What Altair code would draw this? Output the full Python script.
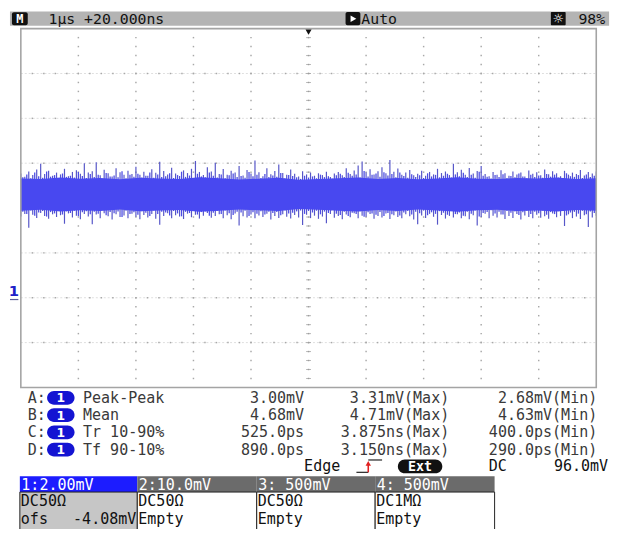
import altair as alt
import pandas as pd

# ================= data =================
status_timebase = "1µs +20.000ns"
status_mode = "Auto"
status_bright = "98%"

us_per_div = 1.0          # 1 µs / div
mv_per_div = 2.0          # 1:2.00mV
ch1_offset_mv = -4.08     # ofs -4.08mV
x_divs = 10
y_divs = 8

# outer extremes of the noise trace (mV), left to right (set A)
spike_top_mv = [
    5.62, 5.48, 5.71, 5.55, 5.80, 6.05, 5.60, 5.74, 5.52, 5.66,
    5.58, 5.83, 5.50, 5.69, 5.77, 5.61, 6.08, 5.66, 5.72, 6.12,
    5.54, 5.79, 5.63, 5.49, 5.86, 5.68, 5.57, 5.74, 5.60, 5.92,
    5.56, 5.70, 5.52, 5.81, 5.65, 6.15, 5.73, 5.58, 5.88, 5.62,
    5.51, 5.76, 5.64, 5.83, 6.18, 5.69, 5.55, 5.90, 5.71, 6.10,
    5.60, 5.82, 5.57, 5.74, 5.66, 5.95, 5.53, 5.78, 5.62, 6.20,
    5.68, 5.50, 5.85, 5.59, 5.73, 6.02, 5.64, 5.56, 5.80, 5.61,
    5.49, 5.72, 5.58, 5.66, 5.52, 5.63, 5.55, 5.70, 5.47, 5.62,
    5.69, 5.54, 5.86, 5.60, 5.75, 5.98, 6.16, 5.67, 5.81, 5.58,
    5.72, 5.90, 5.63, 6.22, 5.70, 5.84, 5.57, 5.66, 5.78, 5.54,
    5.61, 5.74, 5.52, 5.69, 5.58, 5.83, 5.64, 5.71, 5.55, 6.05,
    5.68, 5.79, 5.57, 5.87, 5.62, 5.73, 5.96, 5.60, 5.50, 5.69,
    5.56, 5.77, 5.63, 5.52, 5.71, 5.58, 5.66, 5.49, 5.75, 5.61,
    5.68, 5.54, 5.80, 5.59, 5.72, 5.63, 5.50, 5.74, 5.57, 5.66,
    5.60, 5.78, 5.53, 5.69, 5.62, 5.71,
]
spike_bottom_mv = [
    3.70, 3.82, 3.20, 3.78, 3.64, 3.86, 3.72, 3.60, 3.80, 3.68,
    3.76, 3.38, 3.84, 3.66, 3.74, 3.58, 3.82, 3.70, 3.36, 3.79,
    3.62, 3.85, 3.71, 3.57, 3.80, 3.68, 3.75, 3.63, 3.83, 3.69,
    3.58, 3.77, 3.66, 3.81, 3.60, 3.34, 3.73, 3.85, 3.62, 3.76,
    3.70, 3.59, 3.83, 3.67, 3.78, 3.61, 3.74, 3.86, 3.65, 3.72,
    3.80, 3.63, 3.76, 3.58, 3.84, 3.30, 3.71, 3.66, 3.79, 3.62,
    3.75, 3.68, 3.83, 3.57, 3.73, 3.64, 3.80, 3.69, 3.61, 3.77,
    3.66, 3.32, 3.78, 3.63, 3.74, 3.60, 3.70, 3.40, 3.82, 3.65,
    3.72, 3.58, 3.79, 3.67, 3.85, 3.62, 3.74, 3.69, 3.81, 3.60,
    3.73, 3.66, 3.84, 3.59, 3.76, 3.68, 3.62, 3.80, 3.71, 3.57,
    3.36, 3.75, 3.64, 3.82, 3.69, 3.34, 3.77, 3.61, 3.73, 3.66,
    3.80, 3.63, 3.71, 3.58, 3.76, 3.30, 3.68, 3.83, 3.62, 3.74,
    3.66, 3.79, 3.59, 3.72, 3.64, 3.81, 3.57, 3.75, 3.68, 3.62,
    3.78, 3.65, 3.71, 3.60, 3.84, 3.67, 3.73, 3.28, 3.80, 3.63,
    3.70, 3.59, 3.76, 3.24, 3.66, 3.74,
]
# smaller excursions between the samples above (set B)
fuzz_top_mv = [
    5.45, 5.58, 5.41, 5.66, 5.50, 5.43, 5.71, 5.48, 5.55, 5.40,
    5.62, 5.47, 5.52, 5.44, 5.69, 5.51, 5.42, 5.60, 5.46, 5.57,
    5.39, 5.64, 5.49, 5.53, 5.45, 5.72, 5.41, 5.56, 5.48, 5.61,
    5.44, 5.52, 5.67, 5.43, 5.58, 5.46, 5.50, 5.63, 5.42, 5.55,
    5.70, 5.47, 5.53, 5.40, 5.61, 5.49, 5.45, 5.66, 5.52, 5.44,
    5.58, 5.41, 5.54, 5.62, 5.47, 5.51, 5.43, 5.69, 5.50, 5.56,
    5.42, 5.60, 5.46, 5.53, 5.48, 5.64, 5.40, 5.55, 5.51, 5.45,
    5.38, 5.52, 5.44, 5.49, 5.41, 5.57, 5.46, 5.50, 5.39, 5.54,
    5.61, 5.47, 5.65, 5.52, 5.58, 5.44, 5.73, 5.49, 5.56, 5.62,
    5.48, 5.68, 5.53, 5.60, 5.45, 5.66, 5.51, 5.43, 5.59, 5.47,
    5.54, 5.42, 5.63, 5.49, 5.56, 5.45, 5.52, 5.61, 5.44, 5.58,
    5.50, 5.65, 5.46, 5.57, 5.43, 5.70, 5.52, 5.48, 5.40, 5.55,
    5.47, 5.59, 5.42, 5.51, 5.45, 5.62, 5.49, 5.41, 5.56, 5.46,
    5.53, 5.43, 5.60, 5.48, 5.57, 5.44, 5.39, 5.63, 5.50, 5.47,
    5.55, 5.42, 5.58, 5.46, 5.52,
]
fuzz_bottom_mv = [
    3.92, 3.81, 3.97, 3.74, 3.88, 3.95, 3.70, 3.90, 3.84, 3.98,
    3.79, 3.93, 3.86, 3.96, 3.72, 3.89, 3.94, 3.80, 3.91, 3.83,
    3.99, 3.76, 3.90, 3.85, 3.93, 3.68, 3.96, 3.82, 3.89, 3.78,
    3.94, 3.87, 3.73, 3.97, 3.81, 3.92, 3.88, 3.75, 3.95, 3.84,
    3.71, 3.91, 3.86, 3.98, 3.79, 3.90, 3.93, 3.74, 3.87, 3.95,
    3.82, 3.97, 3.85, 3.77, 3.92, 3.88, 3.96, 3.72, 3.89, 3.83,
    3.94, 3.79, 3.91, 3.86, 3.90, 3.76, 3.98, 3.84, 3.87, 3.93,
    3.97, 3.82, 3.95, 3.88, 3.96, 3.80, 3.92, 3.86, 3.99, 3.83,
    3.77, 3.91, 3.73, 3.87, 3.81, 3.94, 3.69, 3.89, 3.84, 3.78,
    3.90, 3.72, 3.86, 3.80, 3.93, 3.75, 3.88, 3.95, 3.79, 3.91,
    3.85, 3.97, 3.76, 3.89, 3.82, 3.94, 3.87, 3.78, 3.96, 3.81,
    3.88, 3.74, 3.92, 3.83, 3.97, 3.70, 3.86, 3.90, 3.98, 3.84,
    3.91, 3.79, 3.95, 3.87, 3.93, 3.77, 3.89, 3.96, 3.82, 3.92,
    3.85, 3.97, 3.78, 3.90, 3.81, 3.94, 3.99, 3.75, 3.88, 3.91,
    3.83, 3.96, 3.80, 3.93, 3.86,
]
# dense core of the trace (mV)
core_top_mv = [5.40, 5.37, 5.44, 5.39, 5.42, 5.36, 5.43, 5.40, 5.38, 5.45,
               5.41, 5.35, 5.39, 5.43, 5.34, 5.38, 5.41, 5.44, 5.38, 5.42,
               5.36, 5.40, 5.45, 5.39, 5.37, 5.42, 5.40, 5.44, 5.38, 5.41]
core_bottom_mv = [3.96, 4.00, 3.93, 3.98, 3.95, 4.01, 3.94, 3.97, 3.99, 3.92,
                  3.96, 4.02, 3.98, 3.95, 4.04, 4.00, 3.96, 3.93, 3.99, 3.95,
                  4.01, 3.97, 3.92, 3.98, 4.00, 3.95, 3.97, 3.93, 3.99, 3.96]

meas_slot = ["A:", "B:", "C:", "D:"]
meas_source = ["1", "1", "1", "1"]
meas_name = ["Peak-Peak", "Mean", "Tr 10-90%", "Tf 90-10%"]
meas_current = ["3.00mV", "4.68mV", "525.0ps", "890.0ps"]
meas_max = ["3.31mV(Max)", "4.71mV(Max)", "3.875ns(Max)", "3.150ns(Max)"]
meas_min = ["2.68mV(Min)", "4.63mV(Min)", "400.0ps(Min)", "290.0ps(Min)"]

trig_type = "Edge"
trig_source = "Ext"
trig_coupling = "DC"
trig_level = "96.0mV"

ch_label = ["1:2.00mV", "2:10.0mV", "3: 500mV", "4: 500mV"]
ch_coupling = ["DC50Ω", "DC50Ω", "DC50Ω", "DC1MΩ"]
ch_extra = ["ofs", "Empty", "Empty", "Empty"]
ch1_offset_label = "-4.08mV"
ch1_marker = "1"

assert len(spike_top_mv) == len(spike_bottom_mv) == 146
assert len(fuzz_top_mv) == len(fuzz_bottom_mv) == 145
assert len(core_top_mv) == len(core_bottom_mv) == 30

# ================= layout / style =================
MONO = "DejaVu Sans Mono"
FS = 15.2
W, H = 616, 521


def P(r):
    """reference pixel -> chart pixel (page has an 8px margin)"""
    return r - 8


GL, GR, GT, GB = P(21), P(604), P(25.5), P(389)
t_max = x_divs * us_per_div
y_mid = -ch1_offset_mv
y_min = y_mid - y_divs / 2 * mv_per_div
y_max = y_mid + y_divs / 2 * mv_per_div

XS = alt.Scale(domain=[0, t_max], range=[GL, GR], nice=False, zero=False)
YS = alt.Scale(domain=[y_min, y_max], range=[GB, GT], nice=False, zero=False)


def T(labels, xs, ys, align="left", color="#3a3a3a", size=FS, weight="normal", font=MONO):
    df = pd.DataFrame({"label": labels, "px": xs, "py": ys})
    return alt.Chart(df).mark_text(
        align=align, baseline="middle", font=font, fontSize=size,
        fontWeight=weight, color=color
    ).encode(
        x=alt.X("px:Q", scale=None, axis=None),
        y=alt.Y("py:Q", scale=None, axis=None),
        text="label:N",
    )


def R(x1, x2, y1, y2, fill, radius=0, stroke=None, sw=1.0, fill_op=1.0):
    df = pd.DataFrame({"x1": x1, "x2": x2, "y1": y1, "y2": y2})
    kw = dict(fill=fill, cornerRadius=radius, fillOpacity=fill_op)
    if stroke:
        kw.update(stroke=stroke, strokeWidth=sw)
    return alt.Chart(df).mark_rect(**kw).encode(
        x=alt.X("x1:Q", scale=None, axis=None), x2="x2:Q",
        y=alt.Y("y1:Q", scale=None, axis=None), y2="y2:Q",
    )


def L(x1, x2, y1, y2, color, sw=1.0):
    df = pd.DataFrame({"x1": x1, "x2": x2, "y1": y1, "y2": y2})
    return alt.Chart(df).mark_rule(color=color, strokeWidth=sw).encode(
        x=alt.X("x1:Q", scale=None, axis=None), x2="x2:Q",
        y=alt.Y("y1:Q", scale=None, axis=None), y2="y2:Q",
    )


def PT(xs, ys, shape, size, color):
    df = pd.DataFrame({"px": xs, "py": ys})
    return alt.Chart(df).mark_point(shape=shape, size=size, filled=True, color=color, opacity=1).encode(
        x=alt.X("px:Q", scale=None, axis=None),
        y=alt.Y("py:Q", scale=None, axis=None),
    )


layers = []

# ---------- status bar ----------
HB = 7.5
layers.append(R([P(10)], [P(617)], [0], [14.5], "#b4b4b4"))
layers.append(R([P(12)], [P(28)], [1], [14], "#111111", radius=2))
layers.append(T(["M"], [P(20)], [HB], align="center", color="white", size=12, weight="bold"))
layers.append(T([status_timebase], [P(49)], [HB], color="#111111", size=15))
layers.append(R([P(350)], [P(365)], [0.5], [14], "#111111", radius=2))
layers.append(PT([P(358)], [HB], "triangle-right", 45, "white"))
layers.append(T([status_mode], [P(366)], [HB], color="#111111", size=15))
layers.append(R([P(558)], [P(573)], [0.5], [14], "#111111", radius=1))
layers.append(T(["☼"], [P(565.5)], [HB + 0.5], align="center", color="white", size=13, font="DejaVu Sans"))
layers.append(T([status_bright], [P(613)], [HB], align="right", color="#111111", size=15))

# ---------- graticule ----------
h_lines = [y_min + k * mv_per_div for k in range(1, y_divs)]
v_lines = [k * us_per_div for k in range(1, x_divs)]

faint = pd.DataFrame({"v": h_lines})
layers.append(alt.Chart(faint).mark_rule(color="#dedede", strokeWidth=1, strokeDash=[2, 2]).encode(
    y=alt.Y("v:Q", scale=YS, axis=None),
    x=alt.value(GL), x2=alt.value(GR)))

dots = []
for t in v_lines:
    for j in range(1, y_divs * 5):
        dots.append({"t": t, "v": y_min + j * mv_per_div / 5})
for v in h_lines:
    for j in range(1, x_divs * 5):
        dots.append({"t": j * us_per_div / 5, "v": v})
layers.append(alt.Chart(pd.DataFrame(dots)).mark_square(size=2.2, color="#a8a8a8", opacity=1).encode(
    x=alt.X("t:Q", scale=XS, axis=None), y=alt.Y("v:Q", scale=YS, axis=None)))

# centre cross minor ticks
ct_h = pd.DataFrame({"t": [j * us_per_div / 5 for j in range(1, x_divs * 5)], "v": y_mid})
layers.append(alt.Chart(ct_h).mark_tick(orient="vertical", size=5, thickness=1, color="#9a9a9a").encode(
    x=alt.X("t:Q", scale=XS, axis=None), y=alt.Y("v:Q", scale=YS, axis=None)))
ct_v = pd.DataFrame({"t": t_max / 2, "v": [y_min + j * mv_per_div / 5 for j in range(1, y_divs * 5)]})
layers.append(alt.Chart(ct_v).mark_tick(orient="horizontal", size=5, thickness=1, color="#9a9a9a").encode(
    x=alt.X("t:Q", scale=XS, axis=None), y=alt.Y("v:Q", scale=YS, axis=None)))

# ---------- waveform ----------
n_a = len(spike_top_mv)
step = t_max / (n_a - 1)
wave_a = pd.DataFrame({"t": [i * step for i in range(n_a)],
                       "hi": spike_top_mv, "lo": spike_bottom_mv})
n_b = len(fuzz_top_mv)
wave_b = pd.DataFrame({"t": [(i + 0.5) * step for i in range(n_b)],
                       "hi": fuzz_top_mv, "lo": fuzz_bottom_mv})
n_core = len(core_top_mv)
core = pd.DataFrame({"t": [i * t_max / (n_core - 1) for i in range(n_core)],
                     "hi": core_top_mv, "lo": core_bottom_mv})

layers.append(alt.Chart(wave_a).mark_rule(color="#5656c8", strokeWidth=1.2).encode(
    x=alt.X("t:Q", scale=XS, axis=None),
    y=alt.Y("lo:Q", scale=YS, axis=None), y2="hi:Q"))
layers.append(alt.Chart(wave_b).mark_rule(color="#4c4ce6", strokeWidth=1.3).encode(
    x=alt.X("t:Q", scale=XS, axis=None),
    y=alt.Y("lo:Q", scale=YS, axis=None), y2="hi:Q"))
layers.append(alt.Chart(core).mark_area(color="#4848f0", opacity=1, interpolate="linear").encode(
    x=alt.X("t:Q", scale=XS, axis=None),
    y=alt.Y("lo:Q", scale=YS, axis=None), y2="hi:Q"))

# screen border
border = pd.DataFrame({"t0": [0.0], "t1": [t_max], "v0": [y_min], "v1": [y_max]})
layers.append(alt.Chart(border).mark_rect(fillOpacity=0, stroke="#a4a4a4", strokeWidth=1.6).encode(
    x=alt.X("t0:Q", scale=XS, axis=None), x2="t1:Q",
    y=alt.Y("v0:Q", scale=YS, axis=None), y2="v1:Q"))

# trigger position marker
trig_pos = pd.DataFrame({"t": [t_max / 2], "v": [y_max]})
layers.append(alt.Chart(trig_pos).mark_point(shape="triangle-down", size=38, filled=True,
                                             color="#111111", opacity=1, yOffset=3.5).encode(
    x=alt.X("t:Q", scale=XS, axis=None), y=alt.Y("v:Q", scale=YS, axis=None)))

# channel 1 ground marker
gnd = pd.DataFrame({"v": [0.0], "lab": [ch1_marker]})
layers.append(alt.Chart(gnd).mark_text(font="DejaVu Sans", fontWeight="bold", fontSize=15, color="#2020c8",
                                       align="center", baseline="bottom", dy=-1).encode(
    x=alt.value(P(14)), y=alt.Y("v:Q", scale=YS, axis=None), text="lab:N"))
layers.append(alt.Chart(gnd).mark_rule(color="#5a5a9a", strokeWidth=1.2).encode(
    x=alt.value(P(10)), x2=alt.value(P(18.5)), y=alt.Y("v:Q", scale=YS, axis=None)))

# ---------- measurements ----------
row_y = [P(399.5), P(417), P(434.5), P(452)]
layers.append(T(meas_slot, [P(28)] * 4, row_y))
layers.append(R([P(47.6)] * 4, [P(75.4)] * 4, [y - 7 for y in row_y], [y + 7 for y in row_y], "#1414d2", radius=7))
layers.append(T(meas_source, [P(61.5)] * 4, [y + 0.5 for y in row_y], align="center", color="white",
                size=12.5, weight="bold", font="DejaVu Sans"))
layers.append(T(meas_name, [P(84)] * 4, row_y))
layers.append(T(meas_current, [P(308)] * 4, row_y, align="right"))
layers.append(T(meas_max, [P(455)] * 4, row_y, align="right"))
layers.append(T(meas_min, [P(605)] * 4, row_y, align="right"))

# ---------- trigger line ----------
ty = P(469)
layers.append(T([trig_type], [P(308)], [ty], color="#111111"))
layers.append(L([P(361)], [P(373)], [ty + 6], [ty + 6], "#222222", sw=1.2))
layers.append(L([P(373)], [P(387)], [ty - 6.5], [ty - 6.5], "#222222", sw=1.2))
layers.append(L([P(373)], [P(373)], [ty + 6], [ty - 3], "#e02020", sw=1.6))
layers.append(PT([P(373)], [ty - 3], "triangle-up", 30, "#e02020"))
layers.append(R([P(403)], [P(448)], [ty - 7], [ty + 7], "#111111", radius=7))
layers.append(T([trig_source], [P(425.5)], [ty + 0.5], align="center", color="white", size=13.5, weight="bold"))
layers.append(T([trig_coupling], [P(495)], [ty], color="#111111"))
layers.append(T([trig_level], [P(616)], [ty], align="right", color="#111111"))

# ---------- channel boxes ----------
bx = [P(20), P(139), P(260), P(380), P(501)]
h_top, h_bot, b_bot = P(479), P(495), P(537)
head_fill = ["#1c1cff", "#6b6b6b", "#6b6b6b", "#6b6b6b"]
body_fill = ["#c6c6c6", "#ffffff", "#ffffff", "#ffffff"]
layers.append(R(bx[:4], bx[1:], [h_bot] * 4, [b_bot] * 4, "#ffffff"))
for i in range(4):
    layers.append(R([bx[i]], [bx[i + 1]], [h_top], [h_bot], head_fill[i]))
    layers.append(R([bx[i]], [bx[i + 1]], [h_bot], [b_bot], body_fill[i], stroke="#222222", sw=1))
layers.append(T(ch_label, [b + 1.5 for b in bx[:4]], [P(487.5)] * 4, color="white"))
layers.append(T(ch_coupling, [b + 1 for b in bx[:4]], [P(504.5)] * 4, color="#111111"))
layers.append(T(ch_extra, [b + 1 for b in bx[:4]], [P(522.5)] * 4, color="#111111"))
layers.append(T([ch1_offset_label], [bx[1] - 1], [P(522.5)], align="right", color="#111111"))

chart = alt.layer(*layers).resolve_scale(x="independent", y="independent").properties(
    width=W, height=H, padding=0, autosize="none", background="white"
).configure_view(stroke=None)

chart.save("out.html", embed_options={"renderer": "svg", "actions": False})
